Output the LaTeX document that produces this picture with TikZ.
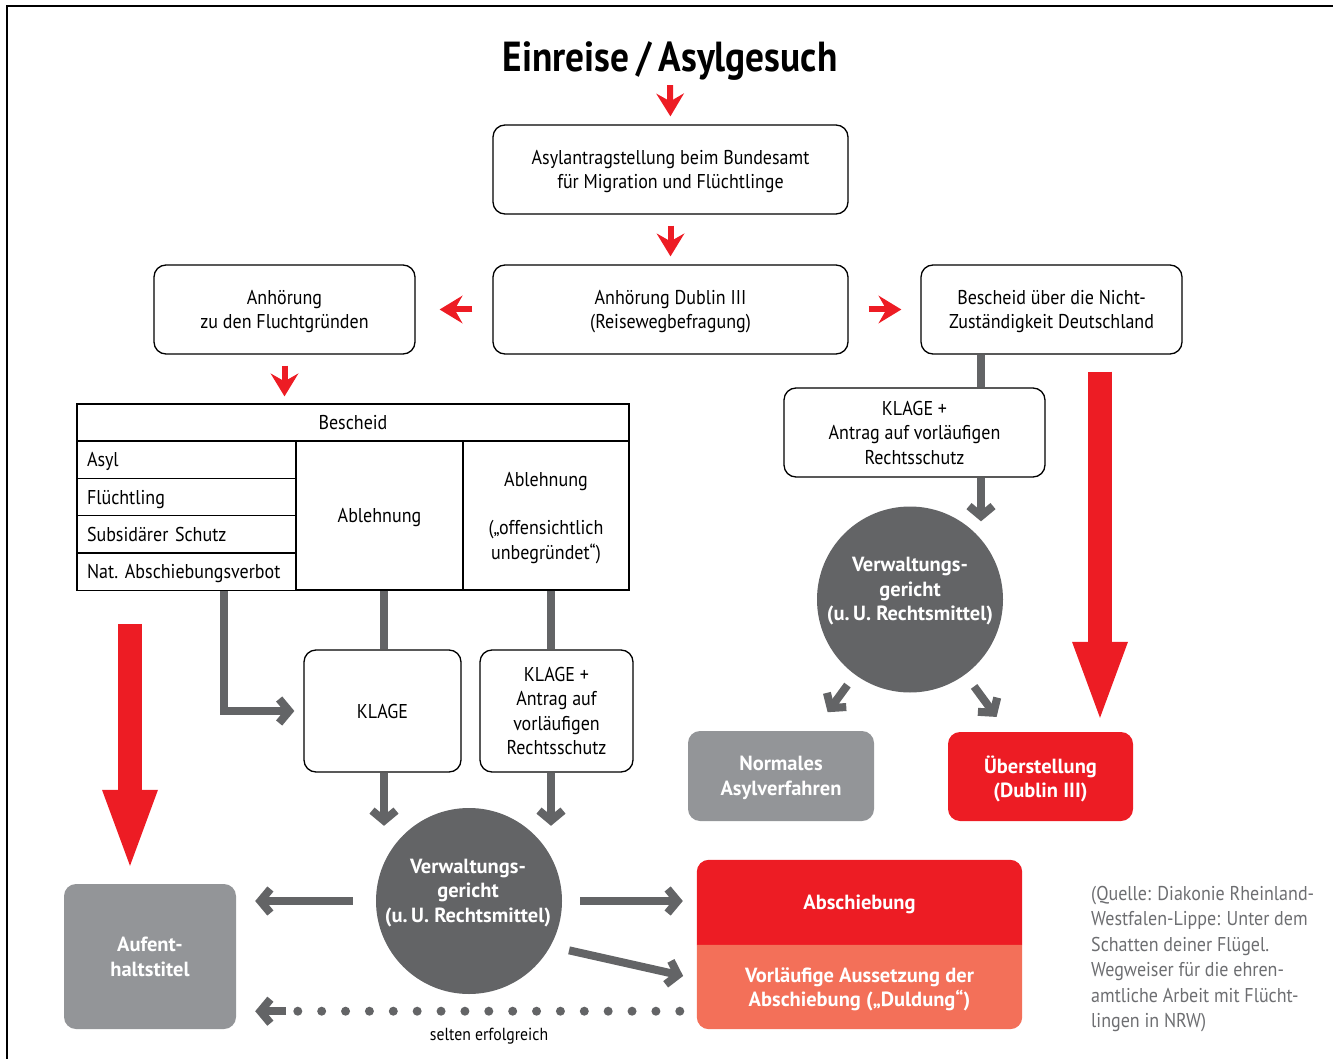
\documentclass[tikz,border=0pt]{standalone}
\usepackage{fontspec}
\setmainfont{PT Sans}[FakeStretch=0.9]
\newfontfamily\boldfam{PT Sans}
\newfontfamily\headfam{PT Sans}[FakeStretch=0.89]
\usetikzlibrary{arrows.meta}
\pgfdeclarelayer{background}
\pgfsetlayers{background,main}

\definecolor{dgray}{RGB}{99,100,102}
\definecolor{lgray}{RGB}{147,149,152}
\definecolor{absred}{RGB}{237,28,36}
\definecolor{salmon}{RGB}{243,112,89}
\definecolor{srcgray}{RGB}{109,110,113}

\newcommand\boxfont{\fontsize{20}{24.5}\selectfont}
\newcommand\boldfont{\boldfam\fontsize{20.5}{24.5}\selectfont\bfseries}
\newcommand\titlefont{\headfam\fontsize{42}{46}\selectfont\bfseries}

\begin{document}
\begin{tikzpicture}[x=1pt,y=-1pt,
  stepbox/.style={draw,rounded corners=12,line width=1.3,align=center,font=\boxfont,inner sep=0,text depth=0pt},
  cell/.style={draw,line width=1.3,align=center,font=\boxfont,inner sep=0,text depth=0pt},
  rowcell/.style={cell,minimum height=37.5,text width=199,align=left,inner xsep=10},
  court/.style={circle,fill=dgray,minimum size=186,inner sep=0},
  courttext/.style={text=white,font=\boldfont,align=center,inner sep=0},
  greybox/.style={fill=lgray,rounded corners=12,text=white,font=\boldfont,align=center,inner sep=0,text depth=0pt},
  redbox/.style={greybox,fill=absred},
  redarr/.style={draw=absred,line width=6,-{Stealth[length=23pt,width=28pt,inset=8pt,line width=0pt]}},
  bigred/.style={draw=absred,line width=24,-{Triangle[length=76pt,width=56pt,line width=0pt]}},
  grayline/.style={draw=dgray,line width=8},
  grayarr/.style={grayline,-{Straight Barb[length=10pt,width=24pt]}},
  dotline/.style={draw=dgray,line width=9,line cap=round,dash pattern=on 0pt off 23.875pt}]

\useasboundingbox (0,0) rectangle (1333,1059);
\draw[line width=2] (7,1059) -- (7,6) -- (1333,6);

\node[font=\titlefont,inner sep=0,anchor=base] (title) at (670,72) {Einreise\,/\,Asylgesuch};

\node[stepbox,minimum width=355,minimum height=89] (antrag) at (670.5,169.5) {Asylantragstellung beim Bundesamt\\für Migration und Flüchtlinge};
\node[stepbox,minimum width=355,minimum height=89] (dublin) at (670.5,309.5) {Anhörung Dublin III\\(Reisewegbefragung)};
\node[stepbox,minimum width=261,minimum height=89] (flucht) at (284.5,309.5) {Anhörung\\zu den Fluchtgründen};
\node[stepbox,minimum width=261,minimum height=89] (bnz) at (1051.5,309.5) {Bescheid über die Nicht-\\Zuständigkeit Deutschland};

\node[cell,minimum width=552,minimum height=37] (head) at (353,422.5) {Bescheid};
\node[rowcell] (asyl) at (186.5,459.5) {Asyl};
\node[rowcell] (fluechtling) at (186.5,497) {Flüchtling};
\node[rowcell] (subsidiaer) at (186.5,534.5) {Subsidärer Schutz};
\node[rowcell] (nat) at (186.5,571.5) {Nat.\ Abschiebungsverbot};
\node[cell,minimum width=167,minimum height=149] (abl) at (379.5,515.5) {Ablehnung};
\node[cell,minimum width=166,minimum height=149] (ablo) at (546,515.5) {Ablehnung\\[24pt](„offensichtlich\\unbegründet“)};

\node[stepbox,minimum width=157,minimum height=122] (klage) at (382.5,711) {KLAGE};
\node[stepbox,minimum width=153,minimum height=122] (klageb) at (556.5,711) {KLAGE +\\Antrag auf\\vorläufigen\\Rechtsschutz};
\node[stepbox,minimum width=261,minimum height=89] (klager) at (914.5,432.5) {KLAGE +\\Antrag auf vorläufigen\\Rechtsschutz};

\node[court] (courtr) at (910,599.5) {};
\node[courttext] (courtrtext) at (910,591.5) {Verwaltungs-\\gericht\\(u.\,U. Rechtsmittel)};
\node[court] (court) at (469,901) {};
\node[courttext] (courttext) at (468,893) {Verwaltungs-\\gericht\\(u.\,U. Rechtsmittel)};

\node[greybox,minimum width=186,minimum height=90] (normal) at (781,776) {Normales\\Asylverfahren};
\node[redbox,minimum width=185,minimum height=89] (ueber) at (1040.5,776.5) {Überstellung\\(Dublin III)};
\node[greybox,minimum width=172,minimum height=145] (aufent) at (150,956.5) {Aufent-\\haltstitel};

\node[font=\boldfont,text=white,align=center,minimum width=325,minimum height=85,inner sep=0,text depth=0pt] (absch) at (859.5,902.5) {Abschiebung};
\node[font=\boldfont,text=white,align=center,minimum width=325,minimum height=84,inner sep=0,text depth=0pt] (dulde) at (859.5,987) {Vorläufige Aussetzung der\\Abschiebung („Duldung“)};
\begin{pgfonlayer}{background}
\fill[absred] (absch.south west) [rounded corners=12] -- (absch.north west) -- (absch.north east) [sharp corners] -- (absch.south east) -- cycle;
\fill[salmon] (dulde.north east) [rounded corners=12] -- (dulde.south east) -- (dulde.south west) [sharp corners] -- (dulde.north west) -- cycle;
\end{pgfonlayer}

\node[font=\fontsize{20}{25.4}\selectfont,text=srcgray,align=left,inner sep=0,anchor=north west] (quelle) at (1091,886) {(Quelle: Diakonie Rheinland-\\Westfalen-Lippe: Unter dem\\Schatten deiner Flügel.\\Wegweiser für die ehren-\\amtliche Arbeit mit Flücht-\\lingen in NRW)};
\node[font=\fontsize{17.5}{20}\selectfont,inner sep=0] (selten) at (489,1036) {selten erfolgreich};

\draw[redarr,shorten <=4,shorten >=8] (title.south) to (antrag.north);
\draw[redarr,shorten <=11,shorten >=8] (antrag) to (dublin);
\draw[redarr,shorten <=20,shorten >=24] (dublin) to (flucht);
\draw[redarr,shorten <=20,shorten >=19] (dublin) to (bnz);
\draw[redarr,shorten <=11,shorten >=7] (flucht.south) to (flucht.south |- head.north);

\draw[bigred,shorten <=17,shorten >=14] ([xshift=48.5]bnz.south) to ([xshift=59.5]ueber.north);
\draw[bigred,shorten <=33,shorten >=18] ([xshift=-56.5]nat.south) to ([xshift=-20]aufent.north);

\draw[grayarr,shorten >=9] ([xshift=37.5]nat.south) |- (klage.west);
\draw[grayline] ([xshift=4.5]abl.south) to ([xshift=1.5]klage.north);
\draw[grayline] ([xshift=5]ablo.south) to ([xshift=-5.5]klageb.north);
\draw[grayarr,shorten >=-18] ([xshift=1.5]klage.south) to ([xshift=-85]court.north);
\draw[grayarr,shorten >=-18] ([xshift=-5.5]klageb.south) to ([xshift=82]court.north);

\draw[grayline] ([xshift=-70.5]bnz.south) to ([xshift=66.5]klager.north);
\draw[grayarr,shorten >=-15] ([xshift=66.5]klager.south) to ([xshift=71]courtr.north);
\draw[grayarr,shorten <=106,shorten >=79] (courtr.center) to (normal.center);
\draw[grayarr,shorten <=108,shorten >=74] (courtr.center) to (ueber.center);

\draw[grayarr,shorten <=23,shorten >=19] (court.west) to (court.west -| aufent.east);
\draw[grayarr,shorten <=18,shorten >=14] (court.east) to (court.east -| absch.west);
\draw[grayarr,shorten <=19,shorten >=14] (court.-29) to ([yshift=8]dulde.west);
\draw[dotline] ([shift={(-17,-18)}]dulde.south west) to ([shift={(61,-18)}]aufent.south east);
\draw[grayarr] ([shift={(50,-18)}]aufent.south east) to ([shift={(19,-18)}]aufent.south east);

\end{tikzpicture}
\end{document}
